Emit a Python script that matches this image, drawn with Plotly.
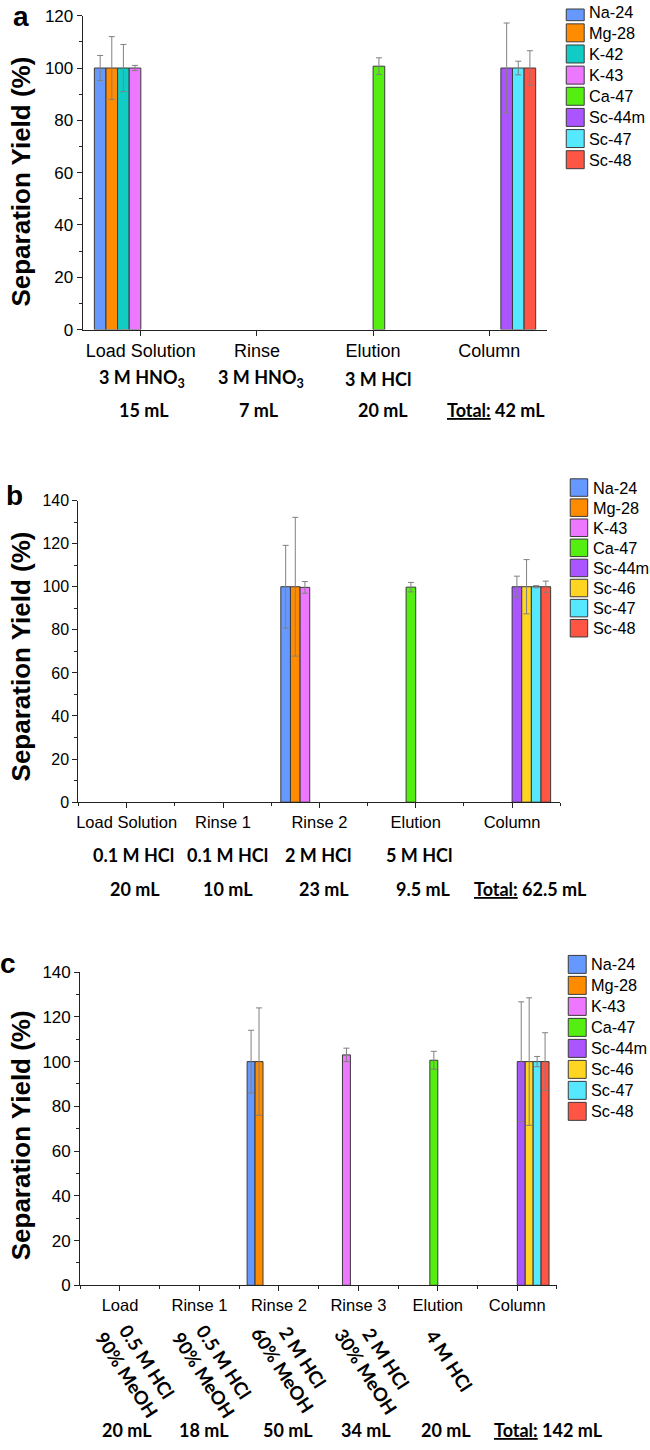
# Separation yields for three column procedures (panels a, b, c)

import plotly.graph_objects as go

W, H = 650, 1450

# ---- data -------------------------------------------------------------

STEPS_A = ["Load Solution", "Rinse", "Elution", "Column"]
ISOTOPES_A = ["Na-24", "Mg-28", "K-42", "K-43", "Ca-47", "Sc-44m", "Sc-47", "Sc-48"]
YIELD_A = [
    [100, None, None, None],
    [100, None, None, None],
    [100, None, None, None],
    [100, None, None, None],
    [None, None, 100.7, None],
    [None, None, None, 100],
    [None, None, None, 100],
    [None, None, None, 100],
]
ERR_A = [
    [4.8, None, None, None],
    [12.0, None, None, None],
    [9.0, None, None, None],
    [1.0, None, None, None],
    [None, None, 3.2, None],
    [None, None, None, 17.2],
    [None, None, None, 2.6],
    [None, None, None, 6.6],
]
MEDIA_A = ["3 M HNO<sub>3</sub>", "3 M HNO<sub>3</sub>", "3 M HCl"]
VOLUMES_A = ["15 mL", "7 mL", "20 mL", "<u>Total:</u> 42 mL"]

STEPS_B = ["Load Solution", "Rinse 1", "Rinse 2", "Elution", "Column"]
ISOTOPES_B = ["Na-24", "Mg-28", "K-43", "Ca-47", "Sc-44m", "Sc-46", "Sc-47", "Sc-48"]
YIELD_B = [
    [None, None, 100, None, None],
    [None, None, 100, None, None],
    [None, None, 99.7, None, None],
    [None, None, None, 99.8, None],
    [None, None, None, None, 100],
    [None, None, None, None, 100],
    [None, None, None, None, 100],
    [None, None, None, None, 100],
]
ERR_B = [
    [None, None, 19.2, None, None],
    [None, None, 32.2, None, None],
    [None, None, 2.7, None, None],
    [None, None, None, 2.2, None],
    [None, None, None, None, 4.9],
    [None, None, None, None, 12.6],
    [None, None, None, None, 0.5],
    [None, None, None, None, 2.6],
]
MEDIA_B = ["0.1 M HCl", "0.1 M HCl", "2 M HCl", "5 M HCl"]
VOLUMES_B = ["20 mL", "10 mL", "23 mL", "9.5 mL", "<u>Total:</u> 62.5 mL"]

STEPS_C = ["Load", "Rinse 1", "Rinse 2", "Rinse 3", "Elution", "Column"]
ISOTOPES_C = ["Na-24", "Mg-28", "K-43", "Ca-47", "Sc-44m", "Sc-46", "Sc-47", "Sc-48"]
YIELD_C = [
    [None, None, 100, None, None, None],
    [None, None, 100, None, None, None],
    [None, None, None, 103, None, None],
    [None, None, None, None, 100.6, None],
    [None, None, None, None, None, 100],
    [None, None, None, None, None, 100],
    [None, None, None, None, None, 100],
    [None, None, None, None, None, 100],
]
ERR_C = [
    [None, None, 14.0, None, None, None],
    [None, None, 24.0, None, None, None],
    [None, None, None, 3.0, None, None],
    [None, None, None, None, 4.0, None],
    [None, None, None, None, None, 26.7],
    [None, None, None, None, None, 28.5],
    [None, None, None, None, None, 2.3],
    [None, None, None, None, None, 12.9],
]
MEDIA_C = ["0.5 M HCl<br>90% MeOH", "0.5 M HCl<br>90% MeOH", "2 M HCl<br>60% MeOH",
           "2 M HCl<br>30% MeOH", "4 M HCl"]
VOLUMES_C = ["20 mL", "18 mL", "50 mL", "34 mL", "20 mL", "<u>Total:</u> 142 mL"]

# ---- style ------------------------------------------------------------

COLORS = {
    "Na-24":  "#6699FF",
    "Mg-28":  "#FF8C00",
    "K-42":   "#10CCC4",
    "K-43":   "#EE77FF",
    "Ca-47":  "#55EE11",
    "Sc-44m": "#AA55FF",
    "Sc-46":  "#FFD522",
    "Sc-47":  "#55E8FF",
    "Sc-48":  "#FF5544",
}
AXIS_COLOR = "#222222"
BAR_EDGE   = "#3a3a3a"
ERR_COLOR  = "#808080"
ARIAL      = "Arial, Liberation Sans, sans-serif"
BOLD_FONT  = "Lato, Open Sans, sans-serif"

# the photographed page comes back slightly squeezed vertically; positions below
# are given in picture pixels and mapped back through this
OFF_Y, SCALE_Y = 8.3, 0.9872


def px(x):
    return x / W


def py(y):
    y = (y - OFF_Y) / SCALE_Y
    return min(max(1 - y / H, 0), 1)


fig = go.Figure()


def add_panel(idx, steps, isotopes, yields, errs, box, ymax, minor_x, tick_size, cat_size):
    xname = "x" if idx == 1 else f"x{idx}"
    yname = "y" if idx == 1 else f"y{idx}"
    xs = list(range(len(steps)))

    for iso, vals, err in zip(isotopes, yields, errs):
        fig.add_trace(go.Bar(
            x=xs,
            y=vals,
            name=iso,
            marker=dict(color=COLORS[iso], line=dict(color=BAR_EDGE, width=1)),
            error_y=dict(type="data", array=err, color=ERR_COLOR, thickness=1, width=3),
            xaxis=xname,
            yaxis=yname,
            showlegend=False,
        ))

    x0, x1, y0, y1 = box
    xa = dict(
        domain=[px(x0), px(x1)],
        range=[-0.5, len(steps) - 0.5],
        anchor=yname,
        tickmode="array",
        tickvals=xs,
        ticktext=steps,
        ticks="outside",
        ticklen=5,
        tickwidth=1.2,
        tickcolor=AXIS_COLOR,
        showline=True,
        linecolor=AXIS_COLOR,
        linewidth=1.2,
        showgrid=False,
        zeroline=False,
        tickfont=dict(size=cat_size, color="black", family=ARIAL),
    )
    if minor_x:
        xa["minor"] = dict(tickmode="linear", tick0=0.5, dtick=1, ticks="outside",
                           ticklen=3, tickwidth=1.2, tickcolor=AXIS_COLOR, showgrid=False)
    ya = dict(
        domain=[py(y1), py(y0)],
        range=[0, ymax],
        anchor=xname,
        tick0=0,
        dtick=20,
        ticks="outside",
        ticklen=5,
        tickwidth=1.2,
        tickcolor=AXIS_COLOR,
        minor=dict(dtick=10, ticks="outside", ticklen=3, tickwidth=1.2,
                   tickcolor=AXIS_COLOR, showgrid=False),
        showline=True,
        linecolor=AXIS_COLOR,
        linewidth=1.2,
        showgrid=False,
        zeroline=False,
        tickfont=dict(size=tick_size, color="black", family=ARIAL),
    )
    key = "" if idx == 1 else str(idx)
    fig.update_layout(**{f"xaxis{key}": xa, f"yaxis{key}": ya})


add_panel(1, STEPS_A, ISOTOPES_A, YIELD_A, ERR_A, (81, 547, 15, 329), 120, False, 17, 18)
add_panel(2, STEPS_B, ISOTOPES_B, YIELD_B, ERR_B, (76.7, 560, 500, 801.7), 140, True, 16, 16.5)
add_panel(3, STEPS_C, ISOTOPES_C, YIELD_C, ERR_C, (78.5, 556.7, 971.7, 1285), 140, True, 17, 16.5)

shapes = []
notes = []


def text(x, y, s, size, family=ARIAL, bold=False, angle=0, xanchor="center",
         yanchor="middle", yshift=0):
    notes.append(dict(
        x=px(x), y=py(y), xref="paper", yref="paper",
        text=f"<b>{s}</b>" if bold else s,
        showarrow=False, xanchor=xanchor, yanchor=yanchor, textangle=angle,
        yshift=yshift, borderpad=0,
        font=dict(size=size, family=family, color="black"),
    ))


def legend(isotopes, x0, yc0, step, size):
    for i, iso in enumerate(isotopes):
        yc = yc0 + i * step
        shapes.append(dict(
            type="rect", xref="paper", yref="paper",
            x0=px(x0), x1=px(x0 + size), y0=py(yc + size / 2), y1=py(yc - size / 2),
            fillcolor=COLORS[iso], line=dict(color=BAR_EDGE, width=1),
        ))
        text(x0 + size + 4, yc, iso, 16.3, xanchor="left")


legend(ISOTOPES_A, 566, 11, 21.15, 18)
legend(ISOTOPES_B, 570, 487, 20.1, 17.5)
legend(ISOTOPES_C, 568, 964, 21, 18)

# panel letters and y titles
for letter, (lx, ly) in zip("abc", [(19, 16), (13, 495), (6, 963)]):
    text(lx, ly, letter, 28, bold=True)
for yc in [181, 656, 1135]:
    text(19, yc, "Separation Yield (%)", 26, bold=True, angle=-90)

# solution / volume rows under each panel
for s, x in zip(MEDIA_A, [140, 260, 377]):
    text(x, 378, s, 18, family=BOLD_FONT, bold=True)
for s, x in zip(VOLUMES_A, [142, 258, 382, 496]):
    text(x, 409, s, 18, family=BOLD_FONT, bold=True)

for s, x in zip(MEDIA_B, [132, 226, 317, 418]):
    text(x, 855, s, 18, family=BOLD_FONT, bold=True)
for s, x in zip(VOLUMES_B, [133, 227, 323, 422, 530]):
    text(x, 889, s, 18, family=BOLD_FONT, bold=True)

for s, (x, y) in zip(MEDIA_C, [(135, 1368), (212, 1368), (291, 1363), (375, 1365), (448, 1360)]):
    text(x, y, s, 18.5, family=BOLD_FONT, bold=True, angle=57)
for s, x in zip(VOLUMES_C, [125, 203, 287, 365, 445, 548]):
    text(x, 1450, s, 18, family=BOLD_FONT, bold=True, yanchor="bottom", yshift=-2)

fig.update_layout(
    width=W,
    height=H,
    margin=dict(l=0, r=0, t=0, b=0),
    paper_bgcolor="white",
    plot_bgcolor="white",
    barmode="group",
    bargap=0.2,
    bargroupgap=0,
    font=dict(family=ARIAL, color="black"),
    shapes=shapes,
    annotations=notes,
    showlegend=False,
)

fig.write_html(
    "out.html",
    config={"displayModeBar": False},
    post_script="document.body.style.margin='0';",
)
